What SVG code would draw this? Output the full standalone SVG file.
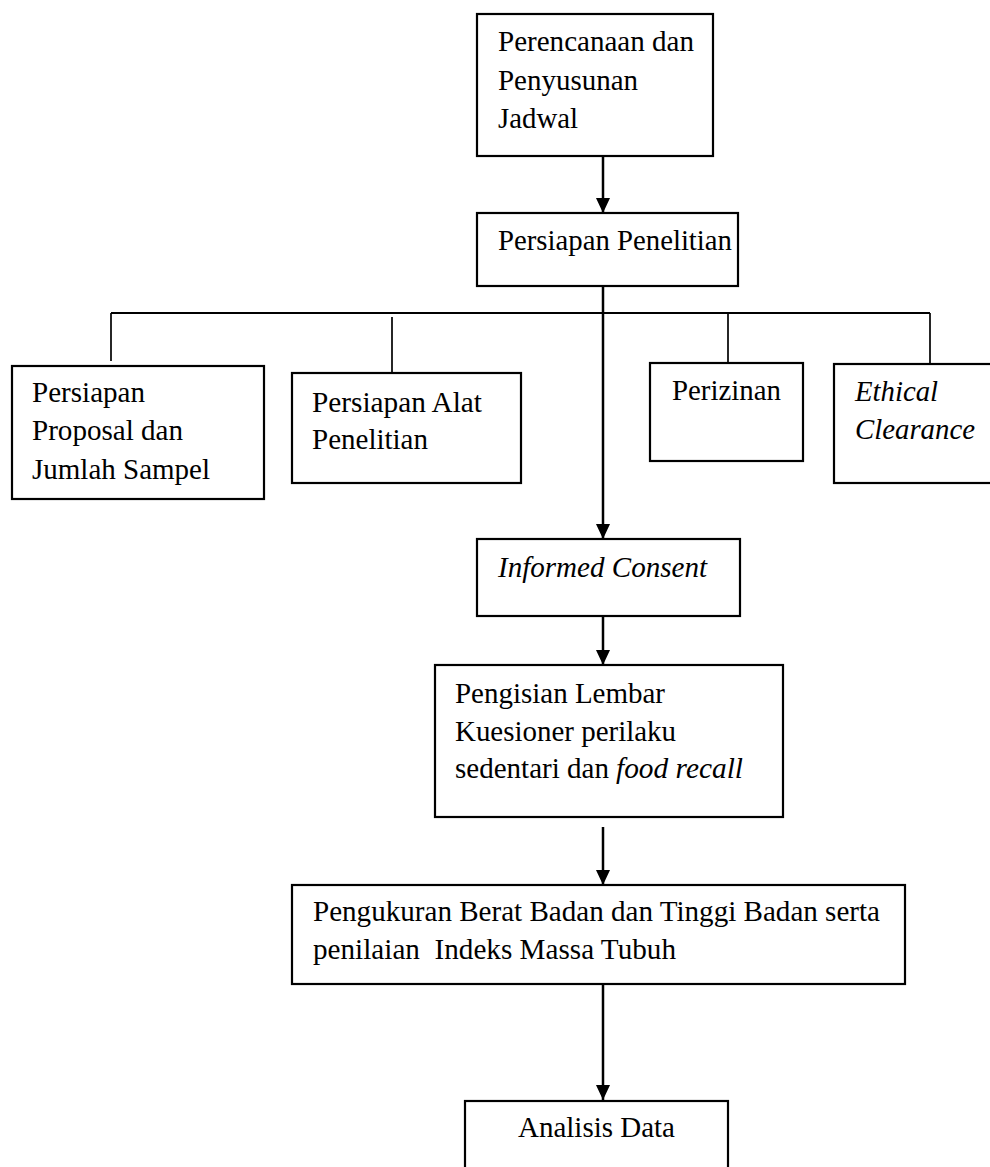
<svg xmlns="http://www.w3.org/2000/svg" width="990" height="1167" viewBox="0 0 990 1167">
<style>
.box{fill:#fff;stroke:#000;stroke-width:2.2}
.t{font-family:"Liberation Serif","Times New Roman",serif;font-size:29px;fill:#000;white-space:pre}
.i{font-style:italic}
.arr{stroke:#000;stroke-width:2.5;fill:none;marker-end:url(#ah)}
.ln{stroke:#000;stroke-width:2.2;fill:none}
.dr{stroke:#000;stroke-width:1.7;fill:none}
</style>
<defs>
<marker id="ah" markerUnits="userSpaceOnUse" markerWidth="15" markerHeight="14" viewBox="0 0 15 14" refX="15" refY="7" orient="auto">
<path d="M0,0 L15,7 L0,14 z" fill="#000"/>
</marker>
</defs>
<rect width="990" height="1167" fill="#fff"/>
<g id="connectors">
<line class="arr" x1="603" y1="156" x2="603" y2="213"/>
<line class="arr" x1="603" y1="286" x2="603" y2="539"/>
<line class="arr" x1="603" y1="616" x2="603" y2="665"/>
<line class="arr" x1="603" y1="827" x2="603" y2="885"/>
<line class="arr" x1="603" y1="984" x2="603" y2="1100"/>
<line class="ln" x1="111" y1="313" x2="930" y2="313"/>
<line class="dr" x1="111" y1="313" x2="111" y2="361"/>
<line class="dr" x1="392" y1="317" x2="392" y2="373"/>
<line class="dr" x1="728" y1="313" x2="728" y2="363"/>
<line class="dr" x1="930" y1="313" x2="930" y2="364"/>
</g>
<g id="perencanaan">
<rect class="box" x="477" y="14" width="236" height="142"/>
<text class="t" x="498" y="51" textLength="196" lengthAdjust="spacingAndGlyphs">Perencanaan dan</text>
<text class="t" x="498" y="90" textLength="140" lengthAdjust="spacingAndGlyphs">Penyusunan</text>
<text class="t" x="498" y="128" textLength="80" lengthAdjust="spacingAndGlyphs">Jadwal</text>
</g>
<g id="persiapan-penelitian">
<rect class="box" x="477" y="213" width="261" height="73"/>
<text class="t" x="498" y="250" textLength="234" lengthAdjust="spacingAndGlyphs">Persiapan Penelitian</text>
</g>
<g id="persiapan-proposal">
<rect class="box" x="12" y="366" width="252" height="133"/>
<text class="t" x="32" y="402" textLength="113" lengthAdjust="spacingAndGlyphs">Persiapan</text>
<text class="t" x="32" y="440" textLength="151" lengthAdjust="spacingAndGlyphs">Proposal dan</text>
<text class="t" x="32" y="479" textLength="178" lengthAdjust="spacingAndGlyphs">Jumlah Sampel</text>
</g>
<g id="persiapan-alat">
<rect class="box" x="292" y="373" width="229" height="110"/>
<text class="t" x="312" y="412" textLength="170" lengthAdjust="spacingAndGlyphs">Persiapan Alat</text>
<text class="t" x="312" y="449" textLength="116" lengthAdjust="spacingAndGlyphs">Penelitian</text>
</g>
<g id="perizinan">
<rect class="box" x="650" y="363" width="153" height="98"/>
<text class="t" x="672" y="400" textLength="109" lengthAdjust="spacingAndGlyphs">Perizinan</text>
</g>
<g id="ethical-clearance">
<rect class="box" x="834" y="364" width="170" height="119"/>
<text class="t i" x="855" y="401" textLength="83" lengthAdjust="spacingAndGlyphs">Ethical</text>
<text class="t i" x="855" y="439" textLength="120" lengthAdjust="spacingAndGlyphs">Clearance</text>
</g>
<g id="informed-consent">
<rect class="box" x="477" y="539" width="263" height="77"/>
<text class="t i" x="498" y="577" textLength="209" lengthAdjust="spacingAndGlyphs">Informed Consent</text>
</g>
<g id="pengisian">
<rect class="box" x="435" y="665" width="348" height="152"/>
<text class="t" x="455" y="703" textLength="210" lengthAdjust="spacingAndGlyphs">Pengisian Lembar</text>
<text class="t" x="455" y="741" textLength="221" lengthAdjust="spacingAndGlyphs">Kuesioner perilaku</text>
<text class="t" x="455" y="778" textLength="154" lengthAdjust="spacingAndGlyphs">sedentari dan</text>
<text class="t i" x="616" y="778" textLength="127" lengthAdjust="spacingAndGlyphs">food recall</text>
</g>
<g id="pengukuran">
<rect class="box" x="292" y="885" width="613" height="99"/>
<text class="t" x="313" y="921" textLength="567" lengthAdjust="spacingAndGlyphs">Pengukuran Berat Badan dan Tinggi Badan serta</text>
<text class="t" x="313" y="959" textLength="363" lengthAdjust="spacingAndGlyphs">penilaian  Indeks Massa Tubuh</text>
</g>
<g id="analisis">
<rect class="box" x="465" y="1101" width="263" height="80"/>
<text class="t" x="518" y="1137" textLength="157" lengthAdjust="spacingAndGlyphs">Analisis Data</text>
</g>
</svg>
